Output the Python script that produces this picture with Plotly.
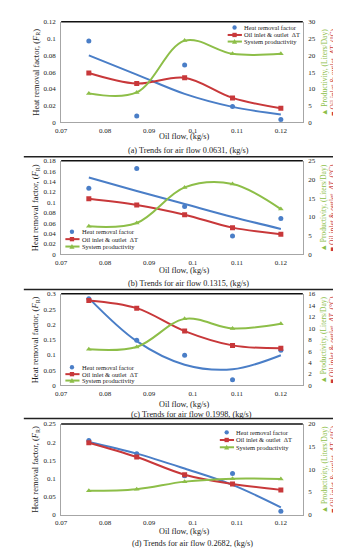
import plotly.graph_objects as go

W, H = 341, 550

# ---------------- data ----------------
oil_flow = [0.0763, 0.0872, 0.0981, 0.109, 0.12]
x_tick_vals = [0.07, 0.08, 0.09, 0.10, 0.11, 0.12]
x_tick_text = ['0.07', '0.08', '0.09', '0.1', '0.11', '0.12']

# (a) air flow 0.0631
hrf_a = [0.097, 0.0075, 0.0685, 0.019, 0.0035]
hrf_trend_a = [0.080, 0.057, 0.034, 0.0185, 0.0094]
dT_a = [14.75, 11.6, 13.3, 7.3, 4.2]
prod_a = [8.65, 8.95, 24.4, 20.45, 20.45]

# (b) air flow 0.1315
hrf_b = [0.127, 0.165, 0.092, 0.0352, 0.069]
hrf_trend_b = [0.148, 0.122, 0.097, 0.072, 0.049]
dT_b = [14.86, 13.2, 10.6, 7.15, 5.4]
prod_b = [7.5, 8.4, 17.9, 18.8, 12.1]

# (c) air flow 0.1998
hrf_c = [0.284, 0.148, 0.099, 0.019, 0.1155]
hrf_trend_c = [0.286, 0.145, 0.068, 0.053, 0.099]
dT_c = [14.85, 13.5, 9.5, 7.0, 6.5]
prod_c = [6.33, 6.73, 11.63, 9.96, 10.76]

# (d) air flow 0.2682
hrf_d = [0.2045, 0.168, 0.107, 0.113, 0.009]
hrf_trend_d = [0.200, 0.168, 0.127, 0.082, 0.020]
dT_d = [15.85, 12.7, 8.8, 6.76, 5.45]
prod_d = [5.24, 5.6, 7.27, 7.93, 7.85]

left_max = [0.12, 0.18, 0.3, 0.25]
left_step = [0.02, 0.02, 0.05, 0.05]
right_max = [30, 25, 16, 20]
right_step = [5, 5, 2, 5]
captions = ['(a) Trends for air flow 0.0631, (kg/s)',
            '(b) Trends for air flow 0.1315, (kg/s)',
            '(c) Trends for air flow 0.1998, (kg/s)',
            '(d) Trends for air flow 0.2682, (kg/s)']
legend_names = ['Heat removal factor', 'Oil inlet & outlet  \u0394T', 'System productivity']
x_title = 'Oil flow, (kg/s)'
left_title = 'Heat removal factor, (<i>F</i><sub>R</sub>)'
right_title_prod = '\u25B2 Productivity, (Liters/Day)'
right_title_dT = '\u25A0 Oil inlet & outlet  <i>\u0394T</i>, (\u00B0C)'

panels = [
    (hrf_a, hrf_trend_a, dT_a, prod_a),
    (hrf_b, hrf_trend_b, dT_b, prod_b),
    (hrf_c, hrf_trend_c, dT_c, prod_c),
    (hrf_d, hrf_trend_d, dT_d, prod_d),
]

# ---------------- layout geometry (pixels) ----------------
PL, PR = 48, 294
tops = [10, 151, 286, 418]
bottoms = [112, 246, 379, 510]
xtitle_y = [126.6, 262.0, 398.3, 527.3]
caption_y = [140.8, 275.8, 408, 539]
caption_x = [178, 178, 181, 181.5]
separators = [147, 281.5, 412.5]
# legend: (line x0, line x1, marker x, text x, row ys)
legend_pos = [
    (217.5, 232, 224.5, 233, [15.7, 23.3, 30]),
    (52.3, 66.7, 59, 68.3, [223, 230.5, 238]),
    (52.3, 66.7, 59, 68.3, [360.5, 367.5, 374]),
    (209.5, 224, 216.5, 225, [426.5, 434.3, 441.7]),
]

BLUE = '#4A7EC7'
RED = '#C8383A'
GREEN = '#8DBE48'
AXC = '#A6A6A6'
TXT = '#1a1a1a'
SERIF = 'Liberation Serif, Times New Roman, serif'


def px(x):
    return x / W


def py(y):
    return 1 - y / H


def fmt(v):
    s = f"{v:.2f}".rstrip('0').rstrip('.')
    return s


fig = go.Figure()
shapes = []
annotations = []
layout = {}

for i, (hrf, trend, dT, prod) in enumerate(panels):
    xn = '' if i == 0 else str(i + 1)
    yl = str(2 * i + 1) if i > 0 else ''
    yr = str(2 * i + 2)
    xref = 'x' + xn
    ylref = 'y' + yl
    yrref = 'y' + yr

    fig.add_trace(go.Scatter(x=oil_flow, y=hrf, mode='markers', xaxis=xref, yaxis=ylref,
                             marker=dict(color=BLUE, size=5), showlegend=False))
    fig.add_trace(go.Scatter(x=oil_flow, y=trend, mode='lines', xaxis=xref, yaxis=ylref,
                             line=dict(color=BLUE, width=2, shape='spline', smoothing=1),
                             showlegend=False))
    fig.add_trace(go.Scatter(x=oil_flow, y=dT, mode='lines+markers', xaxis=xref, yaxis=yrref,
                             line=dict(color=RED, width=2, shape='spline', smoothing=1),
                             marker=dict(symbol='square', size=5, color=RED), showlegend=False))
    fig.add_trace(go.Scatter(x=oil_flow, y=prod, mode='lines+markers', xaxis=xref, yaxis=yrref,
                             line=dict(color=GREEN, width=2, shape='spline', smoothing=1),
                             marker=dict(symbol='triangle-up', size=5, color=GREEN), showlegend=False))

    ydom = [py(bottoms[i]), py(tops[i])]
    tickfont = dict(family=SERIF, size=7, color=TXT)
    layout['xaxis' + xn] = dict(domain=[px(PL), px(PR)], anchor=ylref, range=[0.07, 0.125],
                                tickvals=x_tick_vals, ticktext=x_tick_text, showline=True,
                                linecolor=AXC, linewidth=1, showgrid=False, zeroline=False,
                                ticks='', tickfont=tickfont, fixedrange=True, ticklabelstandoff=1)
    n = int(round(left_max[i] / left_step[i]))
    lv = [round(k * left_step[i], 4) for k in range(n + 1)]
    layout['yaxis' + yl] = dict(domain=ydom, anchor=xref, range=[0, left_max[i]], tickvals=lv,
                                ticktext=[fmt(v) for v in lv], showline=True, linecolor=AXC,
                                linewidth=1, showgrid=False, zeroline=False, ticks='',
                                tickfont=tickfont, fixedrange=True, ticklabelstandoff=3)
    m = int(round(right_max[i] / right_step[i]))
    rv = [k * right_step[i] for k in range(m + 1)]
    layout['yaxis' + yr] = dict(domain=ydom, anchor=xref, overlaying=ylref, side='right',
                                range=[0, right_max[i]], tickvals=rv, ticktext=[str(v) for v in rv],
                                showline=True, linecolor=AXC, linewidth=1, showgrid=False,
                                zeroline=False, ticks='', tickfont=tickfont, fixedrange=True,
                                ticklabelstandoff=3)

    # top border of plot area
    shapes.append(dict(type='line', xref='paper', yref='paper', x0=px(PL), x1=px(PR),
                       y0=py(tops[i]), y1=py(tops[i]), line=dict(color='#111111', width=1.5)))

    cy = (tops[i] + bottoms[i]) / 2
    annotations.append(dict(text=left_title, xref='paper', yref='paper', x=px(22), y=py(cy),
                            textangle=-90, showarrow=False, xanchor='center', yanchor='middle',
                            borderpad=0, font=dict(family=SERIF, size=8.5, color=TXT)))
    annotations.append(dict(text=right_title_prod, xref='paper', yref='paper', x=px(315.5), y=py(cy),
                            textangle=-90, showarrow=False, xanchor='center', yanchor='middle',
                            borderpad=0, font=dict(family=SERIF, size=7.5, color=GREEN)))
    annotations.append(dict(text=right_title_dT, xref='paper', yref='paper', x=px(324.5), y=py(cy),
                            textangle=-90, showarrow=False, xanchor='center', yanchor='middle',
                            borderpad=0, font=dict(family=SERIF, size=7.5, color=RED)))
    annotations.append(dict(text=x_title, xref='paper', yref='paper', x=px(173.5), y=py(xtitle_y[i]),
                            showarrow=False, xanchor='center', yanchor='middle', borderpad=0,
                            font=dict(family=SERIF, size=8.2, color=TXT)))
    annotations.append(dict(text=captions[i], xref='paper', yref='paper', x=px(caption_x[i]),
                            y=py(caption_y[i]), showarrow=False, xanchor='center', yanchor='middle',
                            borderpad=0, font=dict(family=SERIF, size=8.2, color=TXT)))

    # legend (drawn manually)
    lx0, lx1, mx, tx, ys = legend_pos[i]
    r = 2.2
    shapes.append(dict(type='circle', xref='paper', yref='paper', x0=px(mx - r), x1=px(mx + r),
                       y0=py(ys[0] + r), y1=py(ys[0] - r), fillcolor=BLUE, line=dict(width=0)))
    shapes.append(dict(type='line', xref='paper', yref='paper', x0=px(lx0), x1=px(lx1),
                       y0=py(ys[1]), y1=py(ys[1]), line=dict(color=RED, width=2)))
    shapes.append(dict(type='rect', xref='paper', yref='paper', x0=px(mx - r), x1=px(mx + r),
                       y0=py(ys[1] + r), y1=py(ys[1] - r), fillcolor=RED, line=dict(width=0)))
    shapes.append(dict(type='line', xref='paper', yref='paper', x0=px(lx0), x1=px(lx1),
                       y0=py(ys[2]), y1=py(ys[2]), line=dict(color=GREEN, width=2)))
    path = (f"M {px(mx - 2.6)} {py(ys[2] + 2.2)} L {px(mx + 2.6)} {py(ys[2] + 2.2)} "
            f"L {px(mx)} {py(ys[2] - 2.6)} Z")
    shapes.append(dict(type='path', xref='paper', yref='paper', path=path, fillcolor=GREEN,
                       line=dict(width=0)))
    for k, name in enumerate(legend_names):
        annotations.append(dict(text=name, xref='paper', yref='paper', x=px(tx), y=py(ys[k]),
                                showarrow=False, xanchor='left', yanchor='middle', borderpad=0,
                                font=dict(family=SERIF, size=6.5, color=TXT)))

for sy in separators:
    shapes.append(dict(type='line', xref='paper', yref='paper', x0=px(10), x1=px(333),
                       y0=py(sy), y1=py(sy), line=dict(color='#222222', width=1.5)))

fig.update_layout(width=W, height=H, margin=dict(l=0, r=0, t=0, b=0),
                  paper_bgcolor='white', plot_bgcolor='white', showlegend=False,
                  shapes=shapes, annotations=annotations, **layout)

fig.write_html("out.html", config={'displayModeBar': False})
